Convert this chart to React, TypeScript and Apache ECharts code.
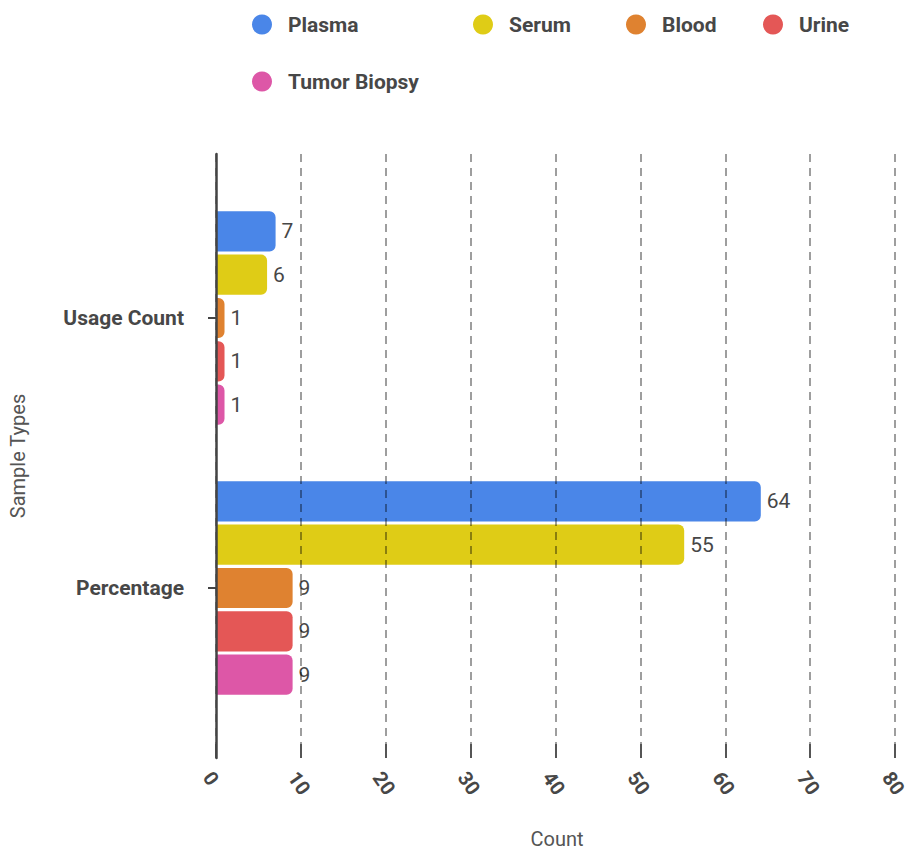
import React, { useEffect, useRef } from "react";
import * as echarts from "echarts";

// Sample-type usage, two measures per type
const categories = ["Usage Count", "Percentage"];
const sampleTypes = ["Plasma", "Serum", "Blood", "Urine", "Tumor Biopsy"];
const plasma = [7, 64];
const serum = [6, 55];
const blood = [1, 9];
const urine = [1, 9];
const tumorBiopsy = [1, 9];
const seriesValues = [plasma, serum, blood, urine, tumorBiopsy];
const colors = ["#4a86e8", "#dfcc16", "#df8230", "#e45756", "#dd57a7"];
const xTicks = { min: 0, max: 80, interval: 10 };
const xTitle = "Count";
const yTitle = "Sample Types";

// legend slots: [left, top]
const legendSlots: [number, number][] = [
  [252, 14],
  [473, 14],
  [626, 14],
  [763, 14],
  [252, 71],
];

const FONT = "Roboto, 'Noto Sans', sans-serif";
const TEXT = "#474747";

export default function App() {
  const ref = useRef<HTMLDivElement>(null);

  useEffect(() => {
    document.body.style.margin = "0";
    if (!ref.current) return;
    const chart = echarts.init(ref.current, null, { renderer: "svg" });

    const option: any = {
      animation: false,
      backgroundColor: "#ffffff",
      textStyle: { fontFamily: FONT },
      legend: sampleTypes.map((name, i) => ({
        data: [name],
        left: legendSlots[i][0],
        top: legendSlots[i][1],
        padding: 0,
        icon: "circle",
        itemWidth: 20,
        itemHeight: 20,
        textStyle: {
          fontFamily: FONT,
          fontSize: 21,
          fontWeight: "bold",
          color: TEXT,
          padding: [0, 0, 0, 11],
        },
      })),
      // x-axis title near the bottom edge of the canvas
      graphic: [
        {
          type: "text",
          x: 557,
          y: 839,
          style: {
            text: xTitle,
            fontFamily: FONT,
            fontSize: 20,
            fill: "#555",
            align: "center",
            verticalAlign: "middle",
          },
        },
      ],
      grid: [
        // frame: axis line, dashed grid and value ticks
        { left: 216, right: 13, top: 154, height: 604 },
        // bars
        { left: 216, right: 13, top: 183, height: 540 },
      ],
      xAxis: [
        {
          type: "value",
          gridIndex: 0,
          min: xTicks.min,
          max: xTicks.max,
          interval: xTicks.interval,
          z: 5,
          axisLine: { show: false },
          axisTick: {
            show: true,
            inside: true,
            length: 14,
            lineStyle: { color: "#555", width: 2 },
          },
          axisLabel: {
            rotate: -55,
            margin: 10,
            align: "left",
            verticalAlign: "top",
            fontFamily: FONT,
            fontSize: 20,
            fontWeight: "bold",
            color: TEXT,
          },
          splitLine: {
            show: true,
            lineStyle: { color: "rgba(0,0,0,0.38)", width: 2, type: [8, 6] },
          },
        },
        {
          type: "value",
          gridIndex: 1,
          min: xTicks.min,
          max: xTicks.max,
          interval: xTicks.interval,
          show: false,
        },
      ],
      yAxis: [
        {
          type: "value",
          gridIndex: 0,
          min: 0,
          max: 1,
          z: 6,
          name: yTitle,
          nameLocation: "middle",
          nameGap: 188,
          nameTextStyle: { fontFamily: FONT, fontSize: 20, color: "#555" },
          axisLine: { show: true, lineStyle: { color: "#444", width: 2.5 } },
          axisTick: { show: false },
          axisLabel: { show: false },
          splitLine: { show: false },
        },
        {
          type: "category",
          gridIndex: 1,
          data: categories,
          inverse: true,
          axisLine: { show: false },
          axisTick: {
            show: true,
            alignWithLabel: true,
            length: 8,
            lineStyle: { color: "#444", width: 2 },
          },
          axisLabel: {
            margin: 32,
            fontFamily: FONT,
            fontSize: 21,
            fontWeight: "bold",
            color: TEXT,
          },
        },
      ],
      series: sampleTypes.map((name, i) => ({
        name,
        type: "bar",
        xAxisIndex: 1,
        yAxisIndex: 1,
        data: seriesValues[i],
        barCategoryGap: "21%",
        barGap: "7.5%",
        itemStyle: { color: colors[i], borderRadius: [0, 6, 6, 0] },
        label: {
          show: true,
          position: "right",
          distance: 6,
          fontFamily: FONT,
          fontSize: 21,
          color: TEXT,
        },
      })),
    };

    chart.setOption(option);
    return () => chart.dispose();
  }, []);

  return <div ref={ref} style={{ width: 910, height: 852 }} />;
}
